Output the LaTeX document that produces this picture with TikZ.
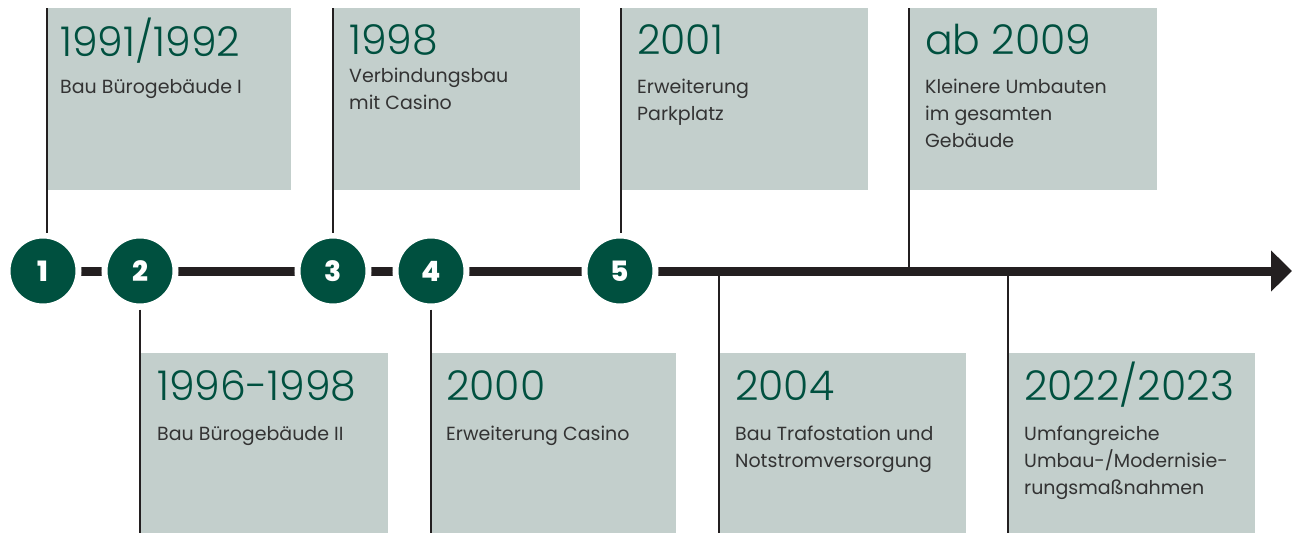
\documentclass[tikz,border=0pt]{standalone}
\usepackage{fontspec}
\setmainfont{Poppins}
\newfontfamily\lightfont{Poppins Light}
\newfontfamily\heavyfont{Poppins ExtraBold}
\usetikzlibrary{arrows.meta}

\definecolor{tlgreen}{HTML}{00503F}
\definecolor{tlbox}{HTML}{C3CFCC}
\definecolor{tlline}{HTML}{231F20}
\definecolor{tltext}{HTML}{333333}

\newcommand{\desclines}[1]{\begin{tabular}[t]{@{}l@{}}#1\end{tabular}}

\begin{document}
\begin{tikzpicture}[x=1pt, y=-1pt]
  \tikzstyle{entry}=[fill=tlbox, anchor=north west, inner sep=0pt, minimum height=182pt]
  \tikzstyle{year}=[anchor=base west, inner sep=0pt, text=tlgreen, font=\lightfont\fontsize{41}{41}\selectfont]
  \tikzstyle{desc}=[anchor=base west, inner sep=0pt, text=tltext, font=\fontsize{19}{27}\selectfont]
  \tikzstyle{stage}=[circle, fill=tlgreen, draw=white, line width=6pt, minimum size=71pt, inner sep=0pt, text=white, font=\heavyfont\fontsize{28}{28}\selectfont]
  \tikzstyle{stem}=[draw=tlline, line width=2.5pt]

  \useasboundingbox (0,0) rectangle (1294,533);

  % boxes above the line
  \node (b1991) at (47,8) [entry, minimum width=244pt] {};
  \node (b1998) at (333,8) [entry, minimum width=247pt] {};
  \node (b2001) at (621,8) [entry, minimum width=247pt] {};
  \node (b2009) at (909,8) [entry, minimum width=248pt] {};

  % boxes below the line
  \node (b1996) at (140,353) [entry, minimum width=248pt, minimum height=180pt] {};
  \node (b2000) at (431,353) [entry, minimum width=245pt, minimum height=180pt] {};
  \node (b2004) at (719,353) [entry, minimum width=247pt, minimum height=180pt] {};
  \node (b2022) at (1008,353) [entry, minimum width=247pt, minimum height=180pt] {};

  % texts
  \node (t1991) at (60,56) [year] {1991/1992};
  \node (d1991) at (60,93) [desc] {Bau Bürogebäude I};
  \node (t1998) at (349,54) [year] {1998};
  \node (d1998) at (349,82) [desc] {\desclines{Verbindungsbau\\mit Casino}};
  \node (t2001) at (637,54) [year] {2001};
  \node (d2001) at (637,93) [desc] {\desclines{Erweiterung\\Parkplatz}};
  \node (t2009) at (925,54) [year] {ab 2009};
  \node (d2009) at (925,93) [desc] {\desclines{Kleinere Umbauten\\im gesamten\\Gebäude}};

  \node (t1996) at (157,400) [year] {1996-1998};
  \node (d1996) at (157,440) [desc] {Bau Bürogebäude II};
  \node (t2000) at (446,400) [year] {2000};
  \node (d2000) at (446,440) [desc] {Erweiterung Casino};
  \node (t2004) at (735,400) [year] {2004};
  \node (d2004) at (735,440) [desc] {\desclines{Bau Trafostation und\\Notstromversorgung}};
  \node (t2022) at (1024,400) [year] {2022/2023};
  \node (d2022) at (1024,440) [desc] {\desclines{Umfangreiche\\Umbau-/Modernisie-\\rungsmaßnahmen}};

  % time line
  \coordinate (tip) at (1292,271);
  \node (c1) at (43,271) [stage] {};
  \draw[tlline, line width=9pt, -{Triangle[length=21pt, width=40pt]}] (c1.center) -- (tip);

  \node (c1) at (43,271) [stage] {1};
  \node (c2) at (140,271) [stage] {2};
  \node (c3) at (333,271) [stage] {3};
  \node (c4) at (431,271) [stage] {4};
  \node (c5) at (620,271) [stage] {5};

  % stems
  \draw[stem] (b1991.north west) -- (b1991.north west |- c1.north);
  \draw[stem] (b1998.north west) -- (b1998.north west |- c3.north);
  \draw[stem] (b2001.north west) -- (b2001.north west |- c5.north);
  \draw[stem] (b2009.north west) -- (b2009.north west |- tip);
  \draw[stem] (c2.south) -- (c2.south |- b1996.south);
  \draw[stem] (c4.south) -- (c4.south |- b2000.south);
  \draw[stem] (b2004.south west) -- (b2004.south west |- tip);
  \draw[stem] (b2022.south west) -- (b2022.south west |- tip);
\end{tikzpicture}
\end{document}
